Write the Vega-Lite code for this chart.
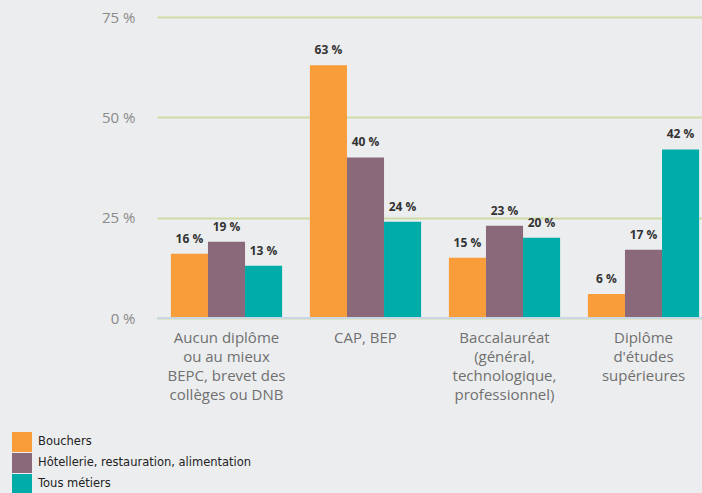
{
  "$schema": "https://vega.github.io/schema/vega-lite/v6.json",
  "width": 545,
  "height": 301,
  "autosize": {"type": "none"},
  "padding": {"left": 157, "top": 17, "right": 0, "bottom": 175},
  "background": "#ecedef",
  "config": {"view": {"stroke": null}, "font": "Open Sans"},
  "data": {"values": [
    {"cat": "Aucun diplôme|ou au mieux|BEPC, brevet des|collèges ou DNB", "serie": "Bouchers", "v": 16},
    {"cat": "Aucun diplôme|ou au mieux|BEPC, brevet des|collèges ou DNB", "serie": "Hôtellerie, restauration, alimentation", "v": 19},
    {"cat": "Aucun diplôme|ou au mieux|BEPC, brevet des|collèges ou DNB", "serie": "Tous métiers", "v": 13},
    {"cat": "CAP, BEP", "serie": "Bouchers", "v": 63},
    {"cat": "CAP, BEP", "serie": "Hôtellerie, restauration, alimentation", "v": 40},
    {"cat": "CAP, BEP", "serie": "Tous métiers", "v": 24},
    {"cat": "Baccalauréat|(général,|technologique,|professionnel)", "serie": "Bouchers", "v": 15},
    {"cat": "Baccalauréat|(général,|technologique,|professionnel)", "serie": "Hôtellerie, restauration, alimentation", "v": 23},
    {"cat": "Baccalauréat|(général,|technologique,|professionnel)", "serie": "Tous métiers", "v": 20},
    {"cat": "Diplôme|d'études|supérieures", "serie": "Bouchers", "v": 6},
    {"cat": "Diplôme|d'études|supérieures", "serie": "Hôtellerie, restauration, alimentation", "v": 17},
    {"cat": "Diplôme|d'études|supérieures", "serie": "Tous métiers", "v": 42}
  ]},
  "encoding": {
    "x": {"field": "cat", "type": "nominal", "sort": null,
      "scale": {"range": [0, 556], "paddingInner": 0.2, "paddingOuter": 0.1},
      "axis": {"title": null, "labelAngle": 0, "labelExpr": "split(datum.value, '|')", "labelFont": "Open Sans", "labelFontSize": 15, "labelColor": "#707070", "labelLineHeight": 19, "labelPadding": 12, "ticks": false, "domain": false, "labelBaseline": "top"}},
    "xOffset": {"field": "serie", "type": "nominal", "sort": null, "scale": {"paddingInner": 0, "paddingOuter": 0}},
    "y": {"field": "v", "type": "quantitative",
      "scale": {"domain": [0, 75], "nice": false},
      "axis": {"title": null, "values": [0, 25, 50, 75], "labelExpr": "datum.value + ' %'", "labelFont": "Open Sans", "labelFontSize": 15, "labelColor": "#8a8a8a", "labelPadding": 22, "ticks": false, "domain": false, "gridColor": "#cfdca6", "gridWidth": 2}}
  },
  "layer": [
    {"mark": {"type": "bar"},
     "encoding": {"color": {"field": "serie", "type": "nominal", "sort": null,
       "scale": {"domain": ["Bouchers", "Hôtellerie, restauration, alimentation", "Tous métiers"], "range": ["#f99d3a", "#8a6a7a", "#00aca7"]},
       "legend": {"title": null, "orient": "none", "legendX": -145, "legendY": 415, "symbolType": "square", "symbolSize": 400, "symbolStrokeWidth": 0, "symbolOpacity": 1, "rowPadding": 1, "labelOffset": 6, "labelLimit": 0, "labelFont": "DejaVu Sans", "labelFontSize": 11.5, "labelColor": "#222222"}}}},
    {"mark": {"type": "rule", "color": "#c9d6e6", "strokeWidth": 2}, "encoding": {"y": {"datum": 0}, "x": {"value": 0}, "x2": {"value": 545}, "xOffset": {"value": 0}}},
    {"mark": {"type": "text", "dy": -8, "baseline": "bottom", "fontWeight": "bold", "fontSize": 12, "font": "Open Sans", "color": "#333333", "text": {"expr": "datum.v + ' %'"}},
     "encoding": {}}
  ]
}
